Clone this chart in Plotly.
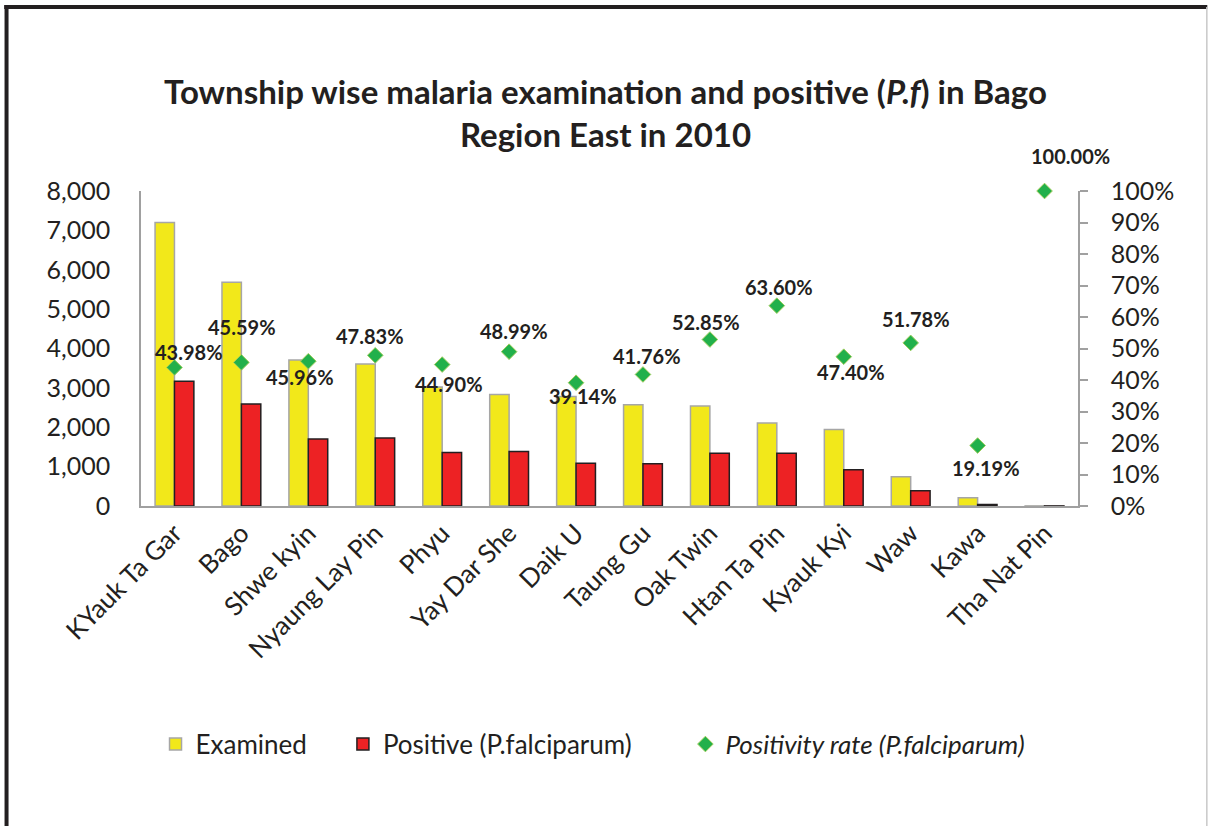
import plotly.graph_objects as go
from plotly.subplots import make_subplots

townships = ['KYauk Ta Gar', 'Bago', 'Shwe kyin', 'Nyaung Lay Pin', 'Phyu', 'Yay Dar She',
             'Daik U', 'Taung Gu', 'Oak Twin', 'Htan Ta Pin', 'Kyauk Kyi', 'Waw', 'Kawa', 'Tha Nat Pin']
examined = [7200, 5680, 3708, 3606, 3020, 2830, 2780, 2574, 2540, 2110, 1942, 745, 212, 2]
positive = [3167, 2590, 1704, 1725, 1356, 1386, 1088, 1075, 1342, 1342, 920, 386, 41, 2]
rate = [0.4398, 0.4559, 0.4596, 0.4783, 0.4490, 0.4899, 0.3914, 0.4176, 0.5285, 0.6360,
        0.4740, 0.5178, 0.1919, 1.0]
rate_labels = ['43.98%', '45.59%', '45.96%', '47.83%', '44.90%', '48.99%', '39.14%', '41.76%',
               '52.85%', '63.60%', '47.40%', '51.78%', '19.19%', '100.00%']

# label offsets in px (dx, dy) so they sit like the Excel data labels
label_dx = [15, 1, -8, -5, 7, 5, 7, 4, -4, 2, 7, 5, 8, 26]
label_dy = [15, 35, -16, 19, -19, 21, -13, 18, 18, 19, -15, 24, -22, 35]

FONT = 'Lato'
INK = '#231f20'

fig = make_subplots(specs=[[{'secondary_y': True}]])

fig.add_trace(go.Bar(x=townships, y=examined, name='Examined', legend='legend',
                     marker=dict(color='#f2e81a', line=dict(color='#a6a6a6', width=1.5))),
              secondary_y=False)
fig.add_trace(go.Bar(x=townships, y=positive, name='Positive (P.falciparum)', legend='legend2',
                     marker=dict(color='#ed2224', line=dict(color=INK, width=1.5))),
              secondary_y=False)
fig.add_trace(go.Scatter(x=townships, y=rate, mode='markers', legend='legend3',
                         name='<i>Positivity rate (P.falciparum)</i>', cliponaxis=False,
                         marker=dict(symbol='diamond', size=12, color='#22b04b',
                                     line=dict(color='#9ccc5a', width=1))),
              secondary_y=True)

for t, r, lab, dx, dy in zip(townships, rate, rate_labels, label_dx, label_dy):
    fig.add_annotation(x=t, y=r, xref='x', yref='y2', text=f'<b>{lab}</b>', showarrow=False,
                       xshift=dx, yshift=dy, font=dict(family=FONT, size=20, color=INK))

# outer frame of the original figure
fig.add_shape(type='line', xref='paper', yref='paper', x0=-0.146, x1=1.138, y0=1.584, y1=1.584,
              line=dict(color=INK, width=4))
fig.add_shape(type='line', xref='paper', yref='paper', x0=-0.1435, x1=-0.1435, y0=-1.02, y1=1.59,
              line=dict(color=INK, width=4))
fig.add_shape(type='line', xref='paper', yref='paper', x0=1.1375, x1=1.1375, y0=-1.02, y1=1.584,
              line=dict(color='#c8c8c8', width=1.5))

leg = dict(orientation='h', y=-0.756, yanchor='middle', xanchor='left',
           font=dict(family=FONT, size=26, color=INK), itemwidth=30)
fig.update_layout(
    width=1211, height=826,
    margin=dict(l=141, r=133, t=191, b=320),
    paper_bgcolor='white', plot_bgcolor='white',
    font=dict(family=FONT, color=INK, size=22),
    title=dict(text='<b>Township wise malaria examination and positive (<i>P.f</i>) in Bago<br>Region East in 2010</b>',
               x=0.5, xanchor='center', y=1 - 104 / 826, yanchor='middle',
               font=dict(family=FONT, size=33, color=INK)),
    barmode='group', bargap=0.42, bargroupgap=0,
    showlegend=True,
    legend=dict(leg, x=0.0155),
    legend2=dict(leg, x=0.2155),
    legend3=dict(leg, x=0.581),
)
fig.update_xaxes(domain=[0, 1], range=[-0.5, 13.5], tickangle=-45, showline=True,
                 linecolor='#a0a0a0', linewidth=1.5, showgrid=False, ticks='',
                 tickfont=dict(size=26))
fig.update_yaxes(range=[0, 8000], dtick=1000, tickformat=',', showgrid=False, zeroline=False,
                 showline=True, linecolor='#a0a0a0', linewidth=1.5, ticks='',
                 ticklabelstandoff=24, tickfont=dict(size=25), secondary_y=False)
fig.update_yaxes(range=[0, 1], dtick=0.1, tickformat='.0%', showgrid=False, zeroline=False,
                 showline=True, linecolor='#a0a0a0', linewidth=1.5, ticks='outside',
                 ticklen=8, tickcolor='#a0a0a0', tickwidth=1.5,
                 ticklabelstandoff=18, tickfont=dict(size=25), secondary_y=True)

fig.write_html('out.html', config={'displayModeBar': False},
               post_script="document.body.style.margin='0px';")
